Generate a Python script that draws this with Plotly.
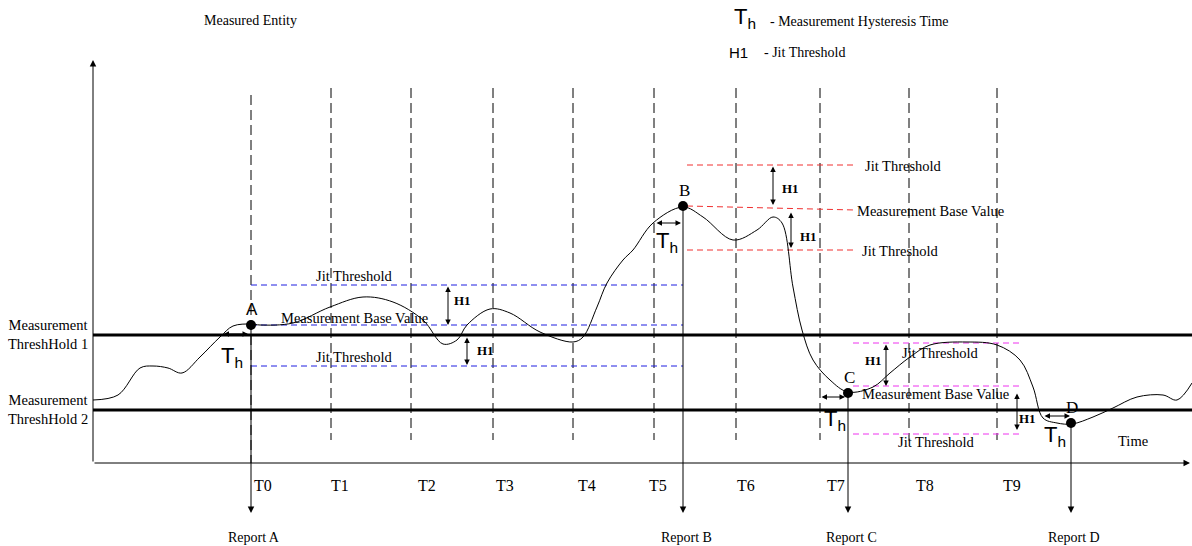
import plotly.graph_objects as go

# Canvas is in pixel units: x to the right, y downward
W, H = 1192, 546

# Measured entity curve
curve_x = [93, 118, 140, 153, 168, 182, 200, 220, 233, 251, 260, 293, 330, 363, 393, 423, 443, 457, 467,
           490, 510, 540, 573, 583, 597, 607, 623, 633, 653, 683, 703, 733, 757, 773, 782, 793, 802, 813,
           830, 848, 873, 890, 910, 930, 967, 997, 1020, 1033, 1043, 1057, 1072, 1093, 1113, 1137, 1163,
           1177, 1192]
curve_y = [400, 395, 368, 366, 368, 373, 357, 337, 326, 324, 325, 323, 307, 297, 302, 320, 344, 340, 325,
           309, 313, 332, 342, 337, 307, 283, 260, 250, 223, 207, 217, 240, 230, 217, 223, 287, 330, 360,
           380, 392, 387, 373, 357, 345, 342, 345, 360, 387, 418, 423, 424, 417, 408, 397, 395,
           400, 383]

# Time slots
slot_labels = ["T0", "T1", "T2", "T3", "T4", "T5", "T6", "T7", "T8", "T9"]
slot_x = [251, 331, 411, 493, 573, 654, 736, 820, 909, 997]
slot_label_x = [263, 340, 427, 505, 587, 658, 746, 836, 925, 1012]

# Thresholds
thresh_names = ["Measurement<br>ThreshHold 1", "Measurement<br>ThreshHold 2"]
thresh_y = [335, 410]

# Report points
report_names = ["A", "B", "C", "D"]
report_x = [251, 683, 848, 1071]
report_y = [325, 206, 393, 423]

# Jit threshold bands
band_x0 = [251, 687, 853]
band_x1 = [683, 855, 1022]
band_upper = [285, 165, 343]
band_base0 = [325, 206, 386]
band_base1 = [325, 210, 386]
band_lower = [366, 250, 434]
band_colors = ["#1f1fe0", "#f03030", "#ee33ee"]

SERIF = "Liberation Serif"
SANS = "Liberation Sans"

fig = go.Figure()


def line(xs, ys, color="black", width=1, dash="solid"):
    fig.add_trace(go.Scatter(x=xs, y=ys, mode="lines", hoverinfo="skip",
                             line=dict(color=color, width=width, dash=dash)))


def arrow(x0, y0, x1, y1, both=False, width=1, size=1.0):
    fig.add_annotation(x=x1, y=y1, ax=x0, ay=y0, xref="x", yref="y", axref="x", ayref="y",
                       text="", showarrow=True, arrowhead=2, arrowsize=size, arrowwidth=width,
                       arrowcolor="black", arrowside="end+start" if both else "end",
                       font=dict(size=10))


def text(x, y, s, size=14.5, family=SERIF, bold=False, xanchor="center"):
    fig.add_annotation(x=x, y=y, xref="x", yref="y", text=f"<b>{s}</b>" if bold else s,
                       showarrow=False, xanchor=xanchor, yanchor="middle",
                       font=dict(family=family, size=size, color="black"))


# vertical dashed slot lines
for i, sx in enumerate(slot_x):
    line([sx, sx], [95 if i == 0 else 88, 463 if i == 0 else 440], dash="10px,5px")
    text(slot_label_x[i], 485, slot_labels[i], size=16)

# threshold lines
for name, ty in zip(thresh_names, thresh_y):
    line([93, W], [ty, ty], width=3)
    text(48, ty - 1, name, size=14.5)

# jit threshold bands
for x0, x1, up, b0, b1, lo, c in zip(band_x0, band_x1, band_upper, band_base0, band_base1, band_lower, band_colors):
    line([x0, x1], [up, up], color=c, dash="6px,4px")
    line([x0, x1], [b0, b1], color=c, dash="6px,4px")
    line([x0, x1], [lo, lo], color=c, dash="6px,4px")

# curve
fig.add_trace(go.Scatter(x=curve_x, y=curve_y, mode="lines", hoverinfo="skip",
                         line=dict(color="black", width=1, shape="spline", smoothing=1)))

# axes
arrow(93, 463, 93, 60, size=1.3)
arrow(93, 463, 1190, 463, size=1.3)

# report arrows and points
for name, rx, ry in zip(report_names, report_x, report_y):
    arrow(rx, ry, rx, 513, size=1.3)
    text(rx + 3, 537, "Report " + name, size=14)
    text(rx + 1, ry - 16, name, size=17, family=SANS if name == "A" else SERIF)
fig.add_trace(go.Scatter(x=report_x, y=report_y, mode="markers", hoverinfo="skip",
                         marker=dict(color="black", size=10)))

# hysteresis arrows
th_x0 = [222, 655, 820, 1043]
th_x1 = [248, 681, 845, 1070]
th_y = [334, 223, 397, 416]
th_lx = [232, 667, 835, 1055]
th_ly = [357, 242, 420, 436]
for x0, x1, ty, lx, ly in zip(th_x0, th_x1, th_y, th_lx, th_ly):
    arrow(x0, ty, x1, ty, both=True, size=1.1)
    text(lx, ly, "T<sub>h</sub>", size=22, family=SANS)

# H1 arrows
h1_x = [448, 467, 773, 791, 886, 1017]
h1_y0 = [285, 336, 165, 211, 343, 392]
h1_y1 = [325, 365, 205, 248, 386, 430]
h1_lx = [462, 485, 790, 808, 873, 1027]
h1_ly = [300, 350, 188, 236, 360, 418]
for hx, y0, y1, lx, ly in zip(h1_x, h1_y0, h1_y1, h1_lx, h1_ly):
    arrow(hx, y0, hx, y1, both=True, size=1.1)
    text(lx, ly, "H1", size=13, bold=True)

# band labels
text(354, 276, "Jit Threshold")
text(354, 318, "Measurement Base Value")
text(354, 357, "Jit Threshold")
text(903, 166, "Jit Threshold")
text(930, 211, "Measurement Base Value")
text(900, 251, "Jit Threshold")
text(940, 353, "Jit Threshold")
text(935, 394, "Measurement Base Value")
text(936, 442, "Jit Threshold")
text(1133, 441, "Time")

# legend text at top
text(250, 20, "Measured Entity", size=14)
text(745, 18, "T<sub>h</sub>", size=22, family=SANS)
text(768, 21, "- Measurement Hysteresis Time", size=14, xanchor="left")
text(738, 52, "H1", size=15, family=SANS)
text(762, 52, "- Jit Threshold", size=14, xanchor="left")

fig.update_layout(
    width=W, height=H,
    margin=dict(l=0, r=0, t=0, b=0),
    showlegend=False,
    plot_bgcolor="white",
    paper_bgcolor="white",
    xaxis=dict(range=[0, W], visible=False, fixedrange=True),
    yaxis=dict(range=[H, 0], visible=False, fixedrange=True),
)

fig.write_html("out.html", config={"displayModeBar": False},
               post_script="document.body.style.margin='0';document.body.style.overflow='hidden';")
